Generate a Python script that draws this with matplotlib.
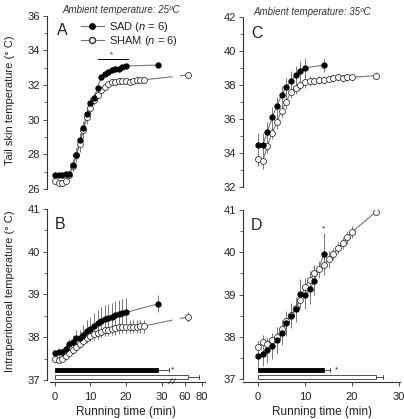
import numpy as np
import matplotlib.pyplot as plt

plt.rcParams['font.family'] = ['Liberation Sans', 'DejaVu Sans']
plt.rcParams['mathtext.fontset'] = 'custom'
plt.rcParams['mathtext.it'] = 'Liberation Sans:italic'
plt.rcParams['mathtext.rm'] = 'Liberation Sans'

# ---- data (minutes, deg C) ----
# panel A: tail skin temperature, ambient 25 C
a_sad_t = list(range(21)) + [29]
a_sad = [26.8, 26.8, 26.8, 26.85, 26.85, 27.4, 27.95, 28.8, 29.5, 30.35, 30.95,
         31.25, 31.85, 32.45, 32.65, 32.75, 32.85, 32.9, 32.95, 33.05, 33.1, 33.15]
a_sad_e = [0.1, 0.1, 0.1, 0.1, 0.2, 0.35, 0.4, 0.45, 0.45, 0.4, 0.35,
           0.3, 0.25, 0.15, 0.12, 0.1, 0.1, 0.1, 0.1, 0.1, 0.1, 0.1]
a_sham_t = list(range(26)) + [64]
a_sham = [26.45, 26.35, 26.35, 26.45, 26.8, 27.3, 27.95, 28.6, 29.4, 30.15, 30.65,
          31.15, 31.45, 31.7, 31.9, 32.05, 32.15, 32.2, 32.25, 32.25, 32.25,
          32.2, 32.25, 32.3, 32.3, 32.3, 32.58]
a_sham_e = [0.15, 0.15, 0.15, 0.15, 0.2, 0.3, 0.4, 0.45, 0.45, 0.4, 0.35,
            0.3, 0.25, 0.2, 0.15, 0.15, 0.12, 0.12, 0.1, 0.1, 0.1,
            0.1, 0.1, 0.1, 0.1, 0.1, 0.2]

# panel B: intraperitoneal temperature, ambient 25 C
b_sad_t = list(range(21)) + [29]
b_sad = [37.62, 37.66, 37.66, 37.72, 37.84, 37.9, 37.98, 37.98, 38.06, 38.15, 38.2,
         38.27, 38.33, 38.39, 38.42, 38.45, 38.48, 38.51, 38.54, 38.56, 38.58, 38.78]
b_sad_e = [0.08, 0.1, 0.1, 0.1, 0.12, 0.15, 0.18, 0.2, 0.22, 0.25, 0.27,
           0.3, 0.3, 0.32, 0.33, 0.33, 0.33, 0.33, 0.33, 0.33, 0.33, 0.2]
b_sham_t = list(range(26)) + [64]
b_sham = [37.48, 37.47, 37.5, 37.55, 37.63, 37.7, 37.78, 37.84, 37.91, 37.98, 38.04,
          38.07, 38.1, 38.13, 38.16, 38.18, 38.2, 38.21, 38.23, 38.24, 38.25,
          38.25, 38.25, 38.25, 38.26, 38.26, 38.48]
b_sham_e = [0.05, 0.06, 0.07, 0.08, 0.08, 0.1, 0.1, 0.1, 0.1, 0.12, 0.12,
            0.13, 0.13, 0.14, 0.14, 0.15, 0.15, 0.15, 0.15, 0.15, 0.15,
            0.15, 0.15, 0.15, 0.15, 0.15, 0.12]

# panel C: tail skin temperature, ambient 35 C
c_sad_t = list(range(11)) + [14]
c_sad = [34.45, 34.45, 35.25, 36.1, 36.75, 37.4, 37.88, 38.25, 38.57, 38.84, 39.0, 39.18]
c_sad_e = [0.7, 0.7, 0.6, 0.6, 0.55, 0.55, 0.55, 0.55, 0.55, 0.6, 0.6, 0.4]
c_sham_t = list(range(21)) + [25]
c_sham = [33.65, 33.55, 34.4, 35.2, 35.8, 36.5, 37.0, 37.6, 37.85, 38.0, 38.15,
          38.25, 38.25, 38.3, 38.3, 38.35, 38.4, 38.45, 38.4, 38.45, 38.45, 38.55]
c_sham_e = [0.4, 0.5, 0.4, 0.4, 0.4, 0.4, 0.4, 0.35, 0.35, 0.3, 0.3,
            0.3, 0.25, 0.25, 0.25, 0.2, 0.2, 0.2, 0.2, 0.2, 0.2, 0.2]

# panel D: intraperitoneal temperature, ambient 35 C
d_sad_t = list(range(13)) + [14]
d_sad = [37.55, 37.6, 37.68, 37.78, 37.92, 38.1, 38.32, 38.5, 38.65, 39.02, 39.0,
         39.12, 39.33, 39.95]
d_sad_e = [0.35, 0.3, 0.3, 0.3, 0.3, 0.3, 0.3, 0.3, 0.3, 0.35, 0.35, 0.35, 0.35, 0.5]
d_sham_t = list(range(21)) + [25]
d_sham = [37.75, 37.88, 37.82, 37.92, 38.0, 38.18, 38.38, 38.52, 38.68, 38.87, 39.18,
          39.35, 39.5, 39.6, 39.7, 39.83, 39.96, 40.1, 40.22, 40.35, 40.48, 40.95]
d_sham_e = [0.15, 0.15, 0.15, 0.15, 0.15, 0.15, 0.2, 0.2, 0.2, 0.2, 0.2,
            0.2, 0.2, 0.2, 0.2, 0.2, 0.15, 0.15, 0.15, 0.15, 0.15, 0.05]

# running time to exhaustion (mean, sem)
run25_sad, run25_sad_e = 29, 3
run25_sham, run25_sham_e = 64, 12
run35_sad, run35_sad_e = 14, 1.3
run35_sham, run35_sham_e = 25, 1.6

GRAY = '#777777'
TXT = '#222222'


def xc(t):
    # broken x axis: 0-33 linear, 60-80 compressed
    t = np.asarray(t, dtype=float)
    return np.where(t <= 33, t, 36.6 + (t - 60) * 0.24)


def series(ax, t, y, e, filled, brk=False):
    x = xc(t)
    y = np.array(y)
    ax.vlines(x, y - np.array(e), y + np.array(e), color=GRAY, lw=0.7, zorder=1)
    if brk and x[-1] > 34:
        y1 = np.interp(33.0, x[-2:], y[-2:])
        y2 = np.interp(35.3, x[-2:], y[-2:])
        ax.plot(list(x[:-1]) + [33.0], list(y[:-1]) + [y1], color=GRAY, lw=0.8, zorder=2)
        ax.plot([35.3, x[-1]], [y2, y[-1]], color=GRAY, lw=0.8, zorder=2)
    else:
        ax.plot(x, y, color=GRAY, lw=0.8, zorder=2)
    if filled:
        ax.plot(x, y, 'o', ms=3.9, mfc='k', mec='k', mew=0.6, ls='none', zorder=3)
    else:
        ax.plot(x, y, 'o', ms=4.3, mfc='white', mec='#333333', mew=0.6, ls='none', zorder=3)


def run_bars(ax, sad, sad_e, sham, sham_e, ysad, ysham, h, star_x):
    ax.barh(ysad, xc(sad), height=h, left=0, color='k', edgecolor='k', lw=0.6, zorder=2)
    ax.barh(ysham, xc(sham), height=h, left=0, color='white', edgecolor='#333333', lw=0.6, zorder=2)
    for m, e, yy in [(sad, sad_e, ysad), (sham, sham_e, ysham)]:
        x0, x1 = float(xc(m)), float(xc(m + e))
        ax.plot([x0, x1], [yy, yy], color='#333333', lw=0.6, zorder=1)
        ax.plot([x1, x1], [yy - h * 0.45, yy + h * 0.45], color='#333333', lw=0.6, zorder=1)
    ax.text(star_x, ysad, '*', fontsize=6, ha='center', va='center', color=TXT)


def make_axes(left, top, right, bottom):
    return fig.add_axes([left / 404, 1 - bottom / 419, (right - left) / 404, (bottom - top) / 419])


def style(ax, ylo, yhi, major, minor, bottom_axis):
    for s in ['top', 'right']:
        ax.spines[s].set_visible(False)
    ax.spines['left'].set_bounds(ylo, yhi)
    ax.spines['left'].set_color('#333333')
    ax.spines['left'].set_linewidth(0.8)
    ax.set_yticks(np.arange(ylo, yhi + 0.01, major))
    ax.set_yticks(np.arange(ylo, yhi + 0.01, minor), minor=True)
    ax.tick_params(axis='y', which='major', direction='out', length=3, width=0.6,
                   labelsize=8, colors='#333333', labelcolor=TXT, pad=2)
    ax.tick_params(axis='y', which='minor', direction='out', length=2, width=0.5, colors='#333333')
    if bottom_axis:
        ax.spines['bottom'].set_color('#333333')
        ax.spines['bottom'].set_linewidth(0.8)
        ax.tick_params(axis='x', which='major', direction='out', length=3, width=0.6,
                       labelsize=8, colors='#333333', labelcolor=TXT, pad=4)
        ax.set_xlabel('Running time (min)', fontsize=8.5, color=TXT, labelpad=3)
    else:
        ax.spines['bottom'].set_visible(False)
        ax.set_xticks([])


fig = plt.figure(figsize=(4.04, 4.19), dpi=100)

# ---- A ----
axA = make_axes(47, 15.7, 205, 189)
series(axA, a_sham_t, a_sham, a_sham_e, False, brk=True)
series(axA, a_sad_t, a_sad, a_sad_e, True)
axA.set_xlim(-2.25, 42.25)
axA.set_ylim(26, 36)
style(axA, 26, 36, 2, 1, False)
axA.plot([12, 20.5], [33.5, 33.5], color='k', lw=0.7)
axA.text(16, 33.75, '*', fontsize=6, ha='center', va='center', color=TXT)
axA.text(0.06, 0.955, 'A', transform=axA.transAxes, fontsize=11.5, va='top', color=TXT)
h1, = axA.plot([], [], 'o-', color=GRAY, ms=3.9, mfc='k', mec='k', lw=0.8)
h2, = axA.plot([], [], 'o-', color=GRAY, ms=4.3, mfc='white', mec='#333333', lw=0.8)
axA.legend([h1, h2], ['SAD ($n$ = 6)', 'SHAM ($n$ = 6)'], loc='upper left',
           bbox_to_anchor=(0.2, 0.99), frameon=False, fontsize=8, handlelength=2.1,
           handletextpad=0.45, labelspacing=0.05, borderaxespad=0, borderpad=0.2,
           labelcolor=TXT)

# ---- C ----
axC = make_axes(243, 17, 400, 187)
series(axC, c_sham_t, c_sham, c_sham_e, False)
series(axC, c_sad_t, c_sad, c_sad_e, True)
axC.set_xlim(-3.2, 30.2)
axC.set_ylim(32, 42)
style(axC, 32, 42, 2, 1, False)
axC.text(0.05, 0.945, 'C', transform=axC.transAxes, fontsize=11.5, va='top', color=TXT)

# ---- B ----
axB = make_axes(47, 209, 205, 382)
series(axB, b_sham_t, b_sham, b_sham_e, False, brk=True)
series(axB, b_sad_t, b_sad, b_sad_e, True)
run_bars(axB, run25_sad, run25_sad_e, run25_sham, run25_sham_e, 37.23, 37.07, 0.09, 33.2)
axB.set_xlim(-2.25, 42.25)
axB.set_ylim(36.953, 41)
style(axB, 37, 41, 1, 0.5, True)
axB.set_xticks(xc([0, 10, 20, 30, 60, 80]))
axB.set_xticklabels(['0', '10', '20', '30', '60', '80'])
axB.spines['bottom'].set_bounds(-1.4, 42.25)
for dx in [-0.5, 0.5]:
    axB.plot([33 + dx - 0.5, 33 + dx + 0.5], [36.91, 37.03], color='#333333', lw=0.6,
             clip_on=False, zorder=4)
axB.text(0.05, 0.955, 'B', transform=axB.transAxes, fontsize=11.5, va='top', color=TXT)

# ---- D ----
axD = make_axes(243, 210, 400, 382)
series(axD, d_sham_t, d_sham, d_sham_e, False)
series(axD, d_sad_t, d_sad, d_sad_e, True)
run_bars(axD, run35_sad, run35_sad_e, run35_sham, run35_sham_e, 37.21, 37.05, 0.09, 16.6)
axD.text(14, 40.55, '*', fontsize=6, ha='center', va='center', color=TXT)
axD.set_xlim(-3.2, 30.2)
axD.set_ylim(36.929, 41)
style(axD, 37, 41, 1, 0.5, True)
axD.set_xticks([0, 10, 20, 30])
axD.text(0.05, 0.955, 'D', transform=axD.transAxes, fontsize=11.5, va='top', color=TXT)

# ---- shared texts ----
fig.text(121 / 404, 1 - 10 / 419, 'Ambient temperature: 25ºC', fontsize=7, style='italic',
         ha='center', va='center', color='#333333')
fig.text(312 / 404, 1 - 12 / 419, 'Ambient temperature: 35ºC', fontsize=7, style='italic',
         ha='center', va='center', color='#333333')
fig.text(10 / 404, 1 - 100 / 419, 'Tail skin temperature (° C)', fontsize=8, rotation=90,
         ha='center', va='center', color=TXT)
fig.text(10 / 404, 1 - 291 / 419, 'Intraperitoneal temperature (° C)', fontsize=8, rotation=90,
         ha='center', va='center', color=TXT)

plt.savefig('out.png', dpi=100)
